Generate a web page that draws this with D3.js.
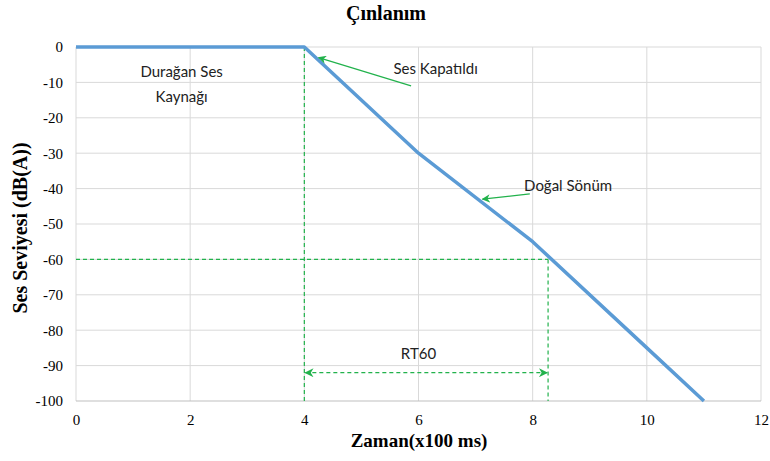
<!DOCTYPE html>
<html>
<head>
<meta charset="utf-8">
<script src="https://cdn.jsdelivr.net/npm/d3@7"></script>
<style>
    body { margin: 0; background: #ffffff; }
    svg { display: block; }
</style>
</head>
<body>
<div id="chart"></div>
<script>
// Data
var timeValues = [0, 4, 6, 8, 10, 11];           // x100 ms
var levelValues = [0, 0, -30, -55, -85, -100];   // dB(A)
var xTicks = [0, 2, 4, 6, 8, 10, 12];
var yTicks = [0, -10, -20, -30, -40, -50, -60, -70, -80, -90, -100];

var offTime = 4;       // sound switched off
var rt60Time = 8.27;   // time the level hits -60
var rt60Level = -60;
var arrowLevel = -92;

var width = 770, height = 461;
var margin = {top: 47, left: 76, right: 9, bottom: 60};
var serif = "'Liberation Serif', 'Times New Roman', serif";

var svg = d3.select("#chart")
    .append("svg")
    .attr("width", width)
    .attr("height", height);

var x = d3.scaleLinear().domain([0, 12]).range([margin.left, width - margin.right]);
var y = d3.scaleLinear().domain([-100, 0]).range([height - margin.bottom, margin.top]);

var green = "#22b24c";

svg.append("defs").append("marker")
    .attr("id", "arrowhead")
    .attr("viewBox", "0 0 10 10")
    .attr("refX", 9).attr("refY", 5)
    .attr("markerWidth", 7).attr("markerHeight", 7)
    .attr("orient", "auto-start-reverse")
    .append("path")
    .attr("d", "M0,0 L10,5 L0,10 L3,5 Z")
    .attr("fill", green);

// Grid
svg.append("g").selectAll("line")
    .data(xTicks)
    .join("line")
    .attr("x1", function(d) { return x(d); })
    .attr("x2", function(d) { return x(d); })
    .attr("y1", y(0)).attr("y2", y(-100))
    .attr("stroke", "#d9d9d9");

svg.append("g").selectAll("line")
    .data(yTicks)
    .join("line")
    .attr("x1", x(0)).attr("x2", x(12))
    .attr("y1", function(d) { return y(d); })
    .attr("y2", function(d) { return y(d); })
    .attr("stroke", function(d) { return d === -100 ? "#bfbfbf" : "#d9d9d9"; });

// Axes (labels only)
var fmt = function(d) { return String(d); };
var xAxis = svg.append("g")
    .attr("transform", "translate(0," + y(-100) + ")")
    .call(d3.axisBottom(x).tickValues(xTicks).tickFormat(fmt).tickSize(0).tickPadding(13));
var yAxis = svg.append("g")
    .attr("transform", "translate(" + x(0) + ",0)")
    .call(d3.axisLeft(y).tickValues(yTicks).tickFormat(fmt).tickSize(0).tickPadding(13));
[xAxis, yAxis].forEach(function(a) {
    a.select(".domain").remove();
    a.selectAll("text")
        .style("font-family", serif)
        .style("font-size", "15px")
        .attr("fill", "#000");
});

// Dashed guides
var guides = [
    [[offTime, 0], [offTime, -100]],
    [[0, rt60Level], [rt60Time, rt60Level]],
    [[rt60Time, rt60Level], [rt60Time, -100]]
];
svg.append("g").selectAll("line")
    .data(guides)
    .join("line")
    .attr("x1", function(d) { return x(d[0][0]); })
    .attr("y1", function(d) { return y(d[0][1]); })
    .attr("x2", function(d) { return x(d[1][0]); })
    .attr("y2", function(d) { return y(d[1][1]); })
    .attr("stroke", green)
    .attr("stroke-width", 1.2)
    .attr("stroke-dasharray", "4,3");

// RT60 double arrow
svg.append("line")
    .attr("x1", x(offTime) + 1).attr("x2", x(rt60Time) - 1)
    .attr("y1", y(arrowLevel)).attr("y2", y(arrowLevel))
    .attr("stroke", green)
    .attr("stroke-width", 1.3)
    .attr("stroke-dasharray", "4,3")
    .attr("marker-start", "url(#arrowhead)")
    .attr("marker-end", "url(#arrowhead)");

// Decay curve
var line = d3.line()
    .x(function(d, i) { return x(timeValues[i]); })
    .y(function(d) { return y(d); });

svg.append("path")
    .datum(levelValues)
    .attr("d", line)
    .attr("fill", "none")
    .attr("stroke", "#5b9bd5")
    .attr("stroke-width", 3.5)
    .attr("stroke-linejoin", "round");

// Annotation arrows
var pointers = [
    [[5.87, -11], [4.25, -3]],
    [[7.95, -41.5], [7.12, -43]]
];
svg.append("g").selectAll("line")
    .data(pointers)
    .join("line")
    .attr("x1", function(d) { return x(d[0][0]); })
    .attr("y1", function(d) { return y(d[0][1]); })
    .attr("x2", function(d) { return x(d[1][0]); })
    .attr("y2", function(d) { return y(d[1][1]); })
    .attr("stroke", green)
    .attr("stroke-width", 1.2)
    .attr("marker-end", "url(#arrowhead)");

// Annotation texts
var notes = [
    {t: "Durağan Ses", x: 1.85, y: -7.5, a: "middle"},
    {t: "Kaynağı", x: 1.85, y: -14.5, a: "middle"},
    {t: "Ses Kapatıldı", x: 6.3, y: -6.5, a: "middle"},
    {t: "RT60", x: 6, y: -87, a: "middle"},
    {t: "Doğal Sönüm", x: 7.85, y: -39.5, a: "start"}
];
svg.append("g").selectAll("text")
    .data(notes)
    .join("text")
    .attr("x", function(d) { return x(d.x); })
    .attr("y", function(d) { return y(d.y); })
    .attr("text-anchor", function(d) { return d.a; })
    .attr("dominant-baseline", "middle")
    .style("font-family", "Lato, 'Open Sans', sans-serif")
    .style("font-size", "15px")
    .attr("fill", "#222")
    .text(function(d) { return d.t; });

// Titles
var titles = [
    {t: "Çınlanım", tr: "translate(386,20)", s: 20},
    {t: "Zaman(x100 ms)", tr: "translate(419,447)", s: 19},
    {t: "Ses Seviyesi (dB(A))", tr: "translate(27,228) rotate(-90)", s: 20}
];
svg.append("g").selectAll("text")
    .data(titles)
    .join("text")
    .attr("transform", function(d) { return d.tr; })
    .attr("text-anchor", "middle")
    .style("font-family", serif)
    .style("font-weight", "bold")
    .style("font-size", function(d) { return d.s + "px"; })
    .attr("fill", "#000")
    .text(function(d) { return d.t; });
</script>
</body>
</html>
